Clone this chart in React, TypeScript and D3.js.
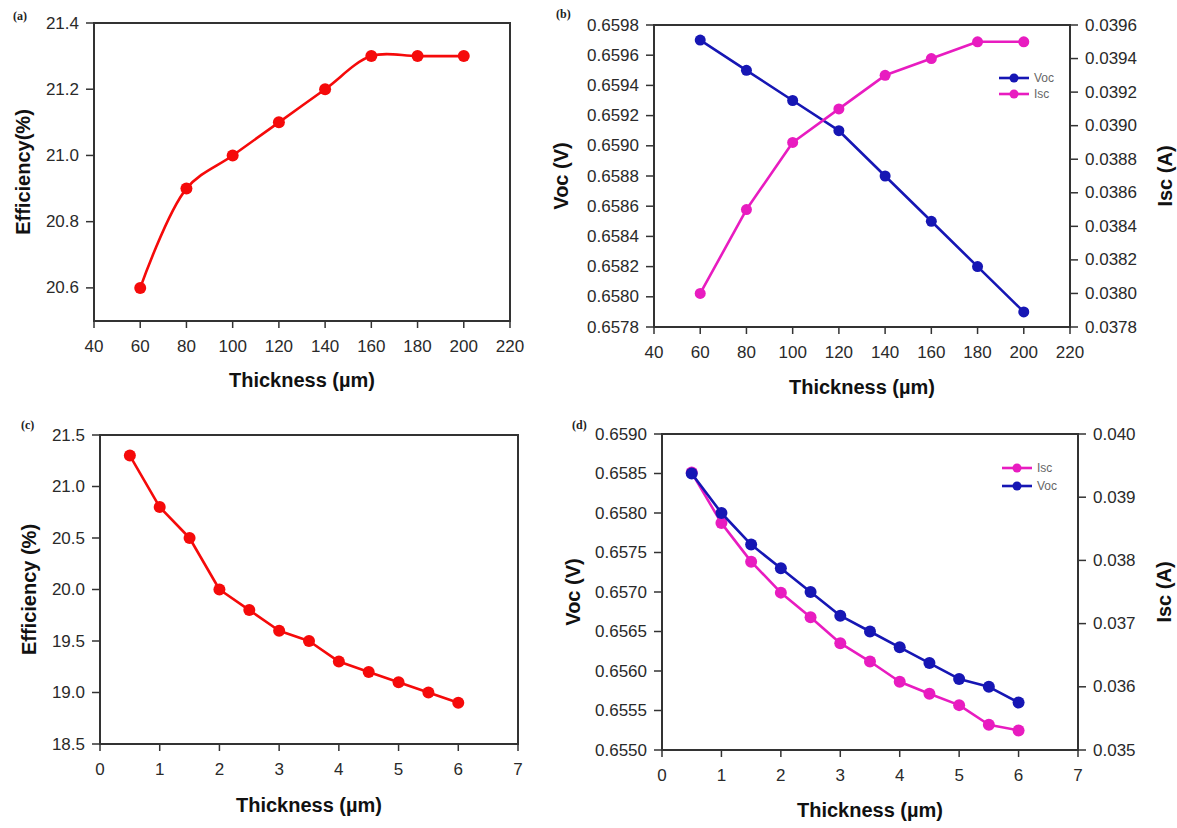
import React from "react";
import * as d3 from "d3";

// ---------- data ----------
const thickA = [60, 80, 100, 120, 140, 160, 180, 200];
const effA = [20.6, 20.9, 21.0, 21.1, 21.2, 21.3, 21.3, 21.3];

const thickB = [60, 80, 100, 120, 140, 160, 180, 200];
const vocB = [0.6597, 0.6595, 0.6593, 0.6591, 0.6588, 0.6585, 0.6582, 0.6579];
const iscB = [0.038, 0.0385, 0.0389, 0.0391, 0.0393, 0.0394, 0.0395, 0.0395];

const thickC = [0.5, 1, 1.5, 2, 2.5, 3, 3.5, 4, 4.5, 5, 5.5, 6];
const effC = [21.3, 20.8, 20.5, 20.0, 19.8, 19.6, 19.5, 19.3, 19.2, 19.1, 19.0, 18.9];

const thickD = [0.5, 1, 1.5, 2, 2.5, 3, 3.5, 4, 4.5, 5, 5.5, 6];
const vocD = [0.6585, 0.658, 0.6576, 0.6573, 0.657, 0.6567, 0.6565, 0.6563, 0.6561, 0.6559, 0.6558, 0.6556];
const iscD = [0.03939, 0.03859, 0.03798, 0.03749, 0.0371, 0.03669, 0.0364, 0.03608, 0.03589, 0.03571, 0.0354, 0.03531];

const ticksXum = [40, 60, 80, 100, 120, 140, 160, 180, 200, 220];
const ticksXsmall = [0, 1, 2, 3, 4, 5, 6, 7];
const ticksEffA = [20.6, 20.8, 21.0, 21.2, 21.4];
const ticksVocB = [0.6578, 0.658, 0.6582, 0.6584, 0.6586, 0.6588, 0.659, 0.6592, 0.6594, 0.6596, 0.6598];
const ticksIscB = [0.0378, 0.038, 0.0382, 0.0384, 0.0386, 0.0388, 0.039, 0.0392, 0.0394, 0.0396];
const ticksEffC = [18.5, 19.0, 19.5, 20.0, 20.5, 21.0, 21.5];
const ticksVocD = [0.655, 0.6555, 0.656, 0.6565, 0.657, 0.6575, 0.658, 0.6585, 0.659];
const ticksIscD = [0.035, 0.036, 0.037, 0.038, 0.039, 0.04];

const RED = "#f50a0a";
const BLUE = "#1616b4";
const MAG = "#e81cc0";
const AX = "#333";
const FONT = "'Liberation Sans', Arial, sans-serif";

type Series = { xs: number[]; ys: number[]; color: string; axis: "L" | "R"; r: number; curve?: any };

type PanelCfg = {
  tag: string;
  tagX: number;
  tagY: number;
  left: number;
  right: number;
  top: number;
  bottom: number;
  xDomain: [number, number];
  xTicks: number[];
  xFmt: (v: number) => string;
  yL: [number, number];
  yLTicks: number[];
  yLFmt: (v: number) => string;
  yLTitle: string;
  yLTitleX: number;
  yR?: [number, number];
  yRTicks?: number[];
  yRFmt?: (v: number) => string;
  yRTitle?: string;
  yRTitleX?: number;
  xTitleY: number;
  series: Series[];
  legend?: { label: string; color: string; y: number }[];
  legendX?: number;
};

function Panel({ c }: { c: PanelCfg }) {
  const x = d3.scaleLinear().domain(c.xDomain).range([c.left, c.right]);
  const yl = d3.scaleLinear().domain(c.yL).range([c.bottom, c.top]);
  const yr = c.yR ? d3.scaleLinear().domain(c.yR).range([c.bottom, c.top]) : null;
  const midY = (c.top + c.bottom) / 2;
  const midX = (c.left + c.right) / 2;
  return (
    <g>
      <text x={c.tagX} y={c.tagY} fontFamily="'Liberation Serif', 'Times New Roman', serif" fontWeight="bold" fontSize={12} fill="#222">
        {c.tag}
      </text>
      {/* series */}
      {c.series.map((s, i) => {
        const ys = s.axis === "L" ? yl : (yr as any);
        const line = d3
          .line<number>()
          .x((_, j) => x(s.xs[j]))
          .y((v) => ys(v))
          .curve(s.curve || d3.curveLinear);
        return (
          <g key={i}>
            <path d={line(s.ys) || ""} fill="none" stroke={s.color} strokeWidth={2.6} strokeLinejoin="round" />
            {s.ys.map((v, j) => (
              <circle key={j} cx={x(s.xs[j])} cy={ys(v)} r={s.r} fill={s.color} />
            ))}
          </g>
        );
      })}
      {/* frame */}
      <rect x={c.left} y={c.top} width={c.right - c.left} height={c.bottom - c.top} fill="none" stroke={AX} strokeWidth={2} />
      {/* x ticks */}
      {c.xTicks.map((t) => (
        <g key={"x" + t}>
          <line x1={x(t)} x2={x(t)} y1={c.bottom} y2={c.bottom + 7} stroke={AX} strokeWidth={1.5} />
          <text x={x(t)} y={c.bottom + 25} textAnchor="middle" dominantBaseline="central" fontFamily={FONT} fontSize={17} fill="#2a2a2a">
            {c.xFmt(t)}
          </text>
        </g>
      ))}
      {/* left ticks */}
      {c.yLTicks.map((t) => (
        <g key={"l" + t}>
          <line x1={c.left - 8} x2={c.left} y1={yl(t)} y2={yl(t)} stroke={AX} strokeWidth={1.5} />
          <text x={c.left - 15} y={yl(t)} textAnchor="end" dominantBaseline="central" fontFamily={FONT} fontSize={17} fill="#2a2a2a">
            {c.yLFmt(t)}
          </text>
        </g>
      ))}
      {/* right ticks */}
      {yr &&
        c.yRTicks!.map((t) => (
          <g key={"r" + t}>
            <line x1={c.right} x2={c.right + 8} y1={yr(t)} y2={yr(t)} stroke={AX} strokeWidth={1.5} />
            <text x={c.right + 15} y={yr(t)} textAnchor="start" dominantBaseline="central" fontFamily={FONT} fontSize={17} fill="#2a2a2a">
              {c.yRFmt!(t)}
            </text>
          </g>
        ))}
      {/* titles */}
      <text x={midX} y={c.xTitleY} textAnchor="middle" dominantBaseline="central" fontFamily={FONT} fontWeight="bold" fontSize={20} fill="#111">
        Thickness (µm)
      </text>
      <text
        transform={`translate(${c.yLTitleX},${midY}) rotate(-90)`}
        textAnchor="middle"
        dominantBaseline="central"
        fontFamily={FONT}
        fontWeight="bold"
        fontSize={20}
        fill="#111"
      >
        {c.yLTitle}
      </text>
      {c.yRTitle && (
        <text
          transform={`translate(${c.yRTitleX},${midY}) rotate(-90)`}
          textAnchor="middle"
          dominantBaseline="central"
          fontFamily={FONT}
          fontWeight="bold"
          fontSize={20}
          fill="#111"
        >
          {c.yRTitle}
        </text>
      )}
      {/* legend */}
      {c.legend &&
        c.legend.map((l) => (
          <g key={l.label}>
            <line x1={c.legendX!} x2={c.legendX! + 30} y1={l.y} y2={l.y} stroke={l.color} strokeWidth={2.6} />
            <circle cx={c.legendX! + 15} cy={l.y} r={4.5} fill={l.color} />
            <text x={c.legendX! + 35} y={l.y} dominantBaseline="central" fontFamily={FONT} fontSize={12} fill="#666">
              {l.label}
            </text>
          </g>
        ))}
    </g>
  );
}

const f0 = (v: number) => String(v);
const f1 = d3.format(".1f");
const f3 = d3.format(".3f");
const f4 = d3.format(".4f");

const panels: PanelCfg[] = [
  {
    tag: "(a)",
    tagX: 13,
    tagY: 20,
    left: 94,
    right: 510,
    top: 23,
    bottom: 321,
    xDomain: [40, 220],
    xTicks: ticksXum,
    xFmt: f0,
    yL: [20.5, 21.4],
    yLTicks: ticksEffA,
    yLFmt: f1,
    yLTitle: "Efficiency(%)",
    yLTitleX: 23,
    xTitleY: 380,
    series: [{ xs: thickA, ys: effA, color: RED, axis: "L", r: 6, curve: d3.curveCatmullRom.alpha(0.5) }],
  },
  {
    tag: "(b)",
    tagX: 556,
    tagY: 18,
    left: 654,
    right: 1070,
    top: 25,
    bottom: 327,
    xDomain: [40, 220],
    xTicks: ticksXum,
    xFmt: f0,
    yL: [0.6578, 0.6598],
    yLTicks: ticksVocB,
    yLFmt: f4,
    yLTitle: "Voc (V)",
    yLTitleX: 561,
    yR: [0.0378, 0.0396],
    yRTicks: ticksIscB,
    yRFmt: f4,
    yRTitle: "Isc (A)",
    yRTitleX: 1165,
    xTitleY: 387,
    series: [
      { xs: thickB, ys: vocB, color: BLUE, axis: "L", r: 5.5 },
      { xs: thickB, ys: iscB, color: MAG, axis: "R", r: 5.5 },
    ],
    legendX: 999,
    legend: [
      { label: "Voc", color: BLUE, y: 78 },
      { label: "Isc", color: MAG, y: 94 },
    ],
  },
  {
    tag: "(c)",
    tagX: 21,
    tagY: 429,
    left: 100,
    right: 518,
    top: 435,
    bottom: 744,
    xDomain: [0, 7],
    xTicks: ticksXsmall,
    xFmt: f0,
    yL: [18.5, 21.5],
    yLTicks: ticksEffC,
    yLFmt: f1,
    yLTitle: "Efficiency (%)",
    yLTitleX: 29,
    xTitleY: 805,
    series: [{ xs: thickC, ys: effC, color: RED, axis: "L", r: 6 }],
  },
  {
    tag: "(d)",
    tagX: 572,
    tagY: 429,
    left: 662,
    right: 1078,
    top: 434,
    bottom: 750,
    xDomain: [0, 7],
    xTicks: ticksXsmall,
    xFmt: f0,
    yL: [0.655, 0.659],
    yLTicks: ticksVocD,
    yLFmt: f4,
    yLTitle: "Voc (V)",
    yLTitleX: 573,
    yR: [0.035, 0.04],
    yRTicks: ticksIscD,
    yRFmt: f3,
    yRTitle: "Isc (A)",
    yRTitleX: 1164,
    xTitleY: 810,
    series: [
      { xs: thickD, ys: iscD, color: MAG, axis: "R", r: 6 },
      { xs: thickD, ys: vocD, color: BLUE, axis: "L", r: 6 },
    ],
    legendX: 1002,
    legend: [
      { label: "Isc", color: MAG, y: 468 },
      { label: "Voc", color: BLUE, y: 486 },
    ],
  },
];

export default function App() {
  return (
    <svg
      width={1177}
      height={828}
      style={{ position: "absolute", left: 0, top: 0, background: "#fff", display: "block" }}
    >
      <rect width={1177} height={828} fill="#fff" />
      {panels.map((p) => (
        <Panel key={p.tag} c={p} />
      ))}
    </svg>
  );
}
